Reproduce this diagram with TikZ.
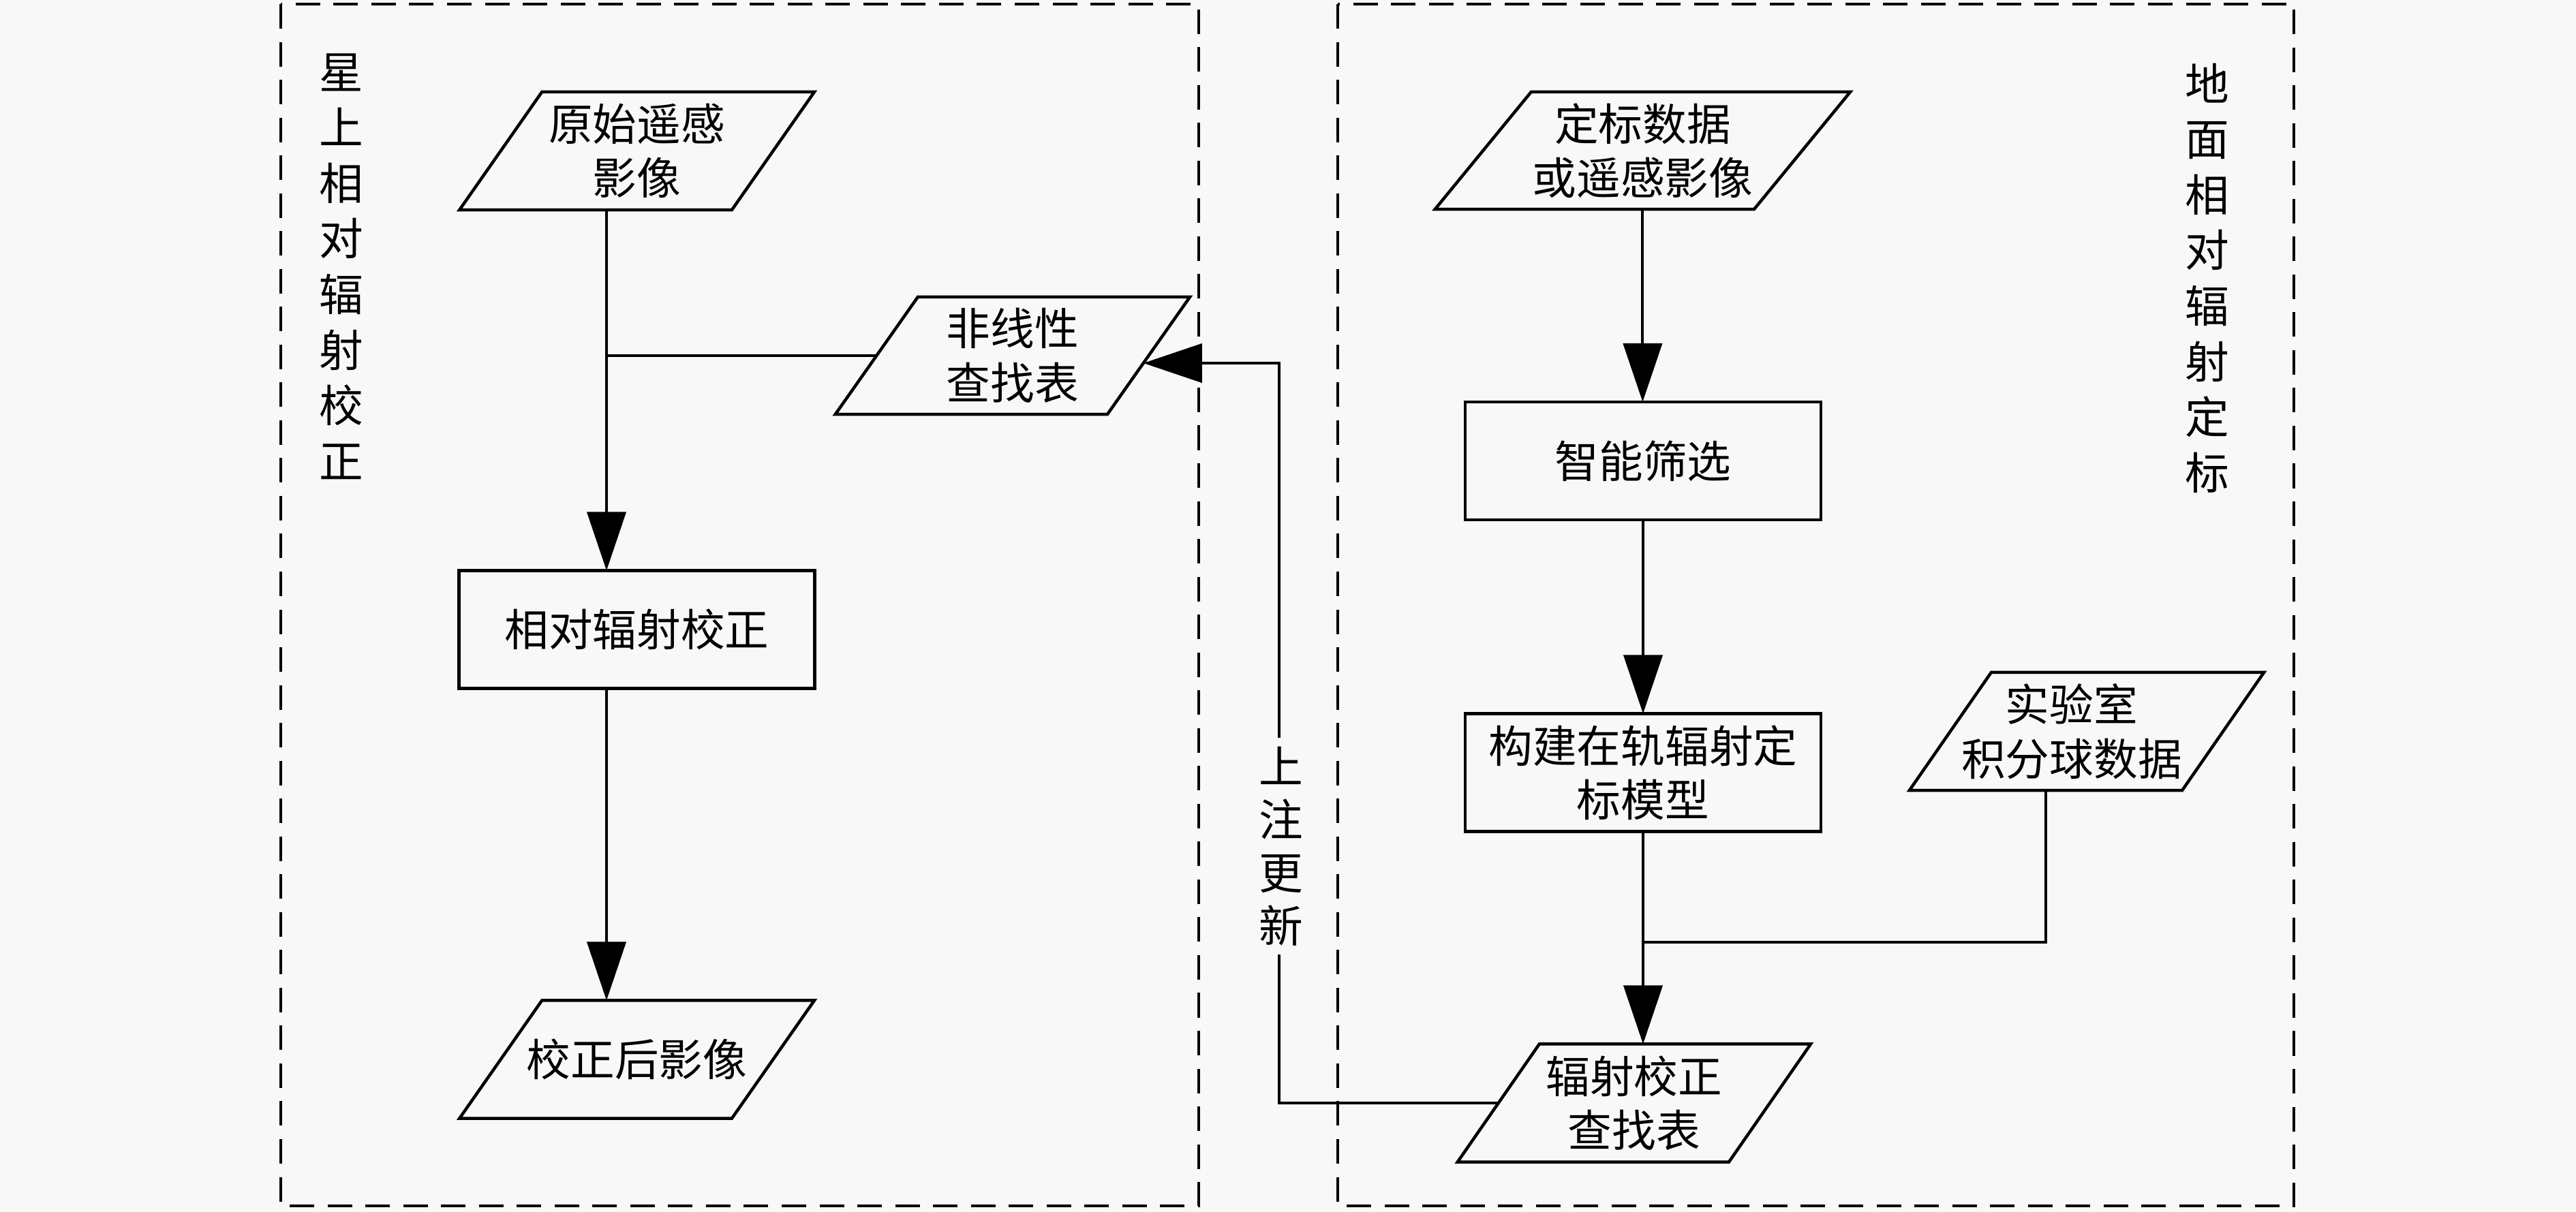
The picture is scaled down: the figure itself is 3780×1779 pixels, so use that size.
\documentclass[tikz,border=0pt]{standalone}
\usepackage{fontspec}
\newfontfamily\cjk{Noto Sans CJK SC}
\usetikzlibrary{arrows.meta,calc}
\definecolor{bg}{HTML}{F8F8F8}
\newcommand\drawpara[2]{%
  \draw[edge] ($(#1.south west)+(-#2,0)$) -- ($(#1.south east)+(-#2,0)$)
    -- ($(#1.north east)+(#2,0)$) -- ($(#1.north west)+(#2,0)$) -- cycle;}
\begin{document}
\begin{tikzpicture}[x=0.01cm,y=-0.01cm,
  font=\cjk\fontsize{18.4pt}{22.6pt}\selectfont,
  edge/.style={line width=0.045cm,line join=miter},
  conn/.style={line width=0.04cm},
  arr/.style={conn,-{Triangle[length=0.86cm,width=0.57cm]}},
  group/.style={draw,line width=0.035cm,dash pattern=on 0.36cm off 0.195cm},
  shapebox/.style={draw=none,inner sep=0pt,outer sep=0pt,align=center},
  rbox/.style={draw,line width=0.045cm,inner sep=0pt,outer sep=0pt,align=center,
    minimum width=5.22cm,minimum height=1.73cm},
  vlabel/.style={align=center,inner sep=0pt,font=\cjk\fontsize{18.4pt}{23.2pt}\selectfont}]
\fill[bg,use as bounding box] (0,0) rectangle (3780,1779);

% group frames
\draw[group] (412,6) rectangle (1759,1770);
\draw[group] (1963,6) rectangle (3366,1770);
\node[vlabel] (lblL) at (501,391) {星\\上\\相\\对\\辐\\射\\校\\正};
\node[vlabel] (lblR) at (3239,408) {地\\面\\相\\对\\辐\\射\\定\\标};

% nodes
\node[shapebox,minimum width=3.995cm,minimum height=1.73cm] (raw) at (934.6,221.5) {原始遥感\\影像};
\node[shapebox,minimum width=3.99cm,minimum height=1.72cm] (nl) at (1485.9,522) {非线性\\查找表};
\node[rbox] (rel) at (934.5,924) {相对辐射校正};
\node[shapebox,minimum width=3.995cm,minimum height=1.73cm] (out) at (934.6,1555) {\raisebox{-0.1cm}{校正后影像}};
\node[shapebox,minimum width=4.68cm,minimum height=1.72cm] (cal) at (2410.4,221) {定标数据\\或遥感影像};
\node[rbox] (sel) at (2411,676.5) {智能筛选};
\node[rbox] (model) at (2411,1134) {构建在轨辐射定\\标模型};
\node[shapebox,minimum width=4.0cm,minimum height=1.73cm] (lab) at (3062,1073.5) {\hspace*{-0.44cm}实验室\\\hspace*{-0.44cm}积分球数据};
\node[shapebox,minimum width=3.98cm,minimum height=1.73cm] (lut) at (2397.9,1619) {辐射校正\\查找表};

\drawpara{raw}{60.5}
\drawpara{nl}{60.5}
\drawpara{out}{60.5}
\drawpara{cal}{70.5}
\drawpara{lab}{60}
\drawpara{lut}{60}

% connectors
\coordinate (j1) at (890,522);
\draw[conn] (nl.west) -- (j1);
\draw[arr] (raw.south -| j1) -- (rel.north -| j1);
\draw[arr] (rel.south -| j1) -- (out.north -| j1);
\draw[arr] (cal.south) -- (cal.south |- sel.north);
\draw[arr] (sel.south) -- (model.north);
\draw[arr] (model.south) -- (model.south |- lut.north);
\coordinate (j2) at (2411,1383);
\draw[conn] ($(lab.south)+(-60,0)$) |- (j2);
\coordinate (fb) at (1876.5,533);
\draw[arr] (lut.west) -| (fb) -- ($(nl.east)+(-7.7,11)$);
\node[vlabel,fill=bg,inner xsep=0.05cm,inner ysep=0.13cm,font=\cjk\fontsize{18.4pt}{22.2pt}\selectfont] (upd) at (1880,1242) {上\\注\\更\\新};
\end{tikzpicture}
\end{document}
